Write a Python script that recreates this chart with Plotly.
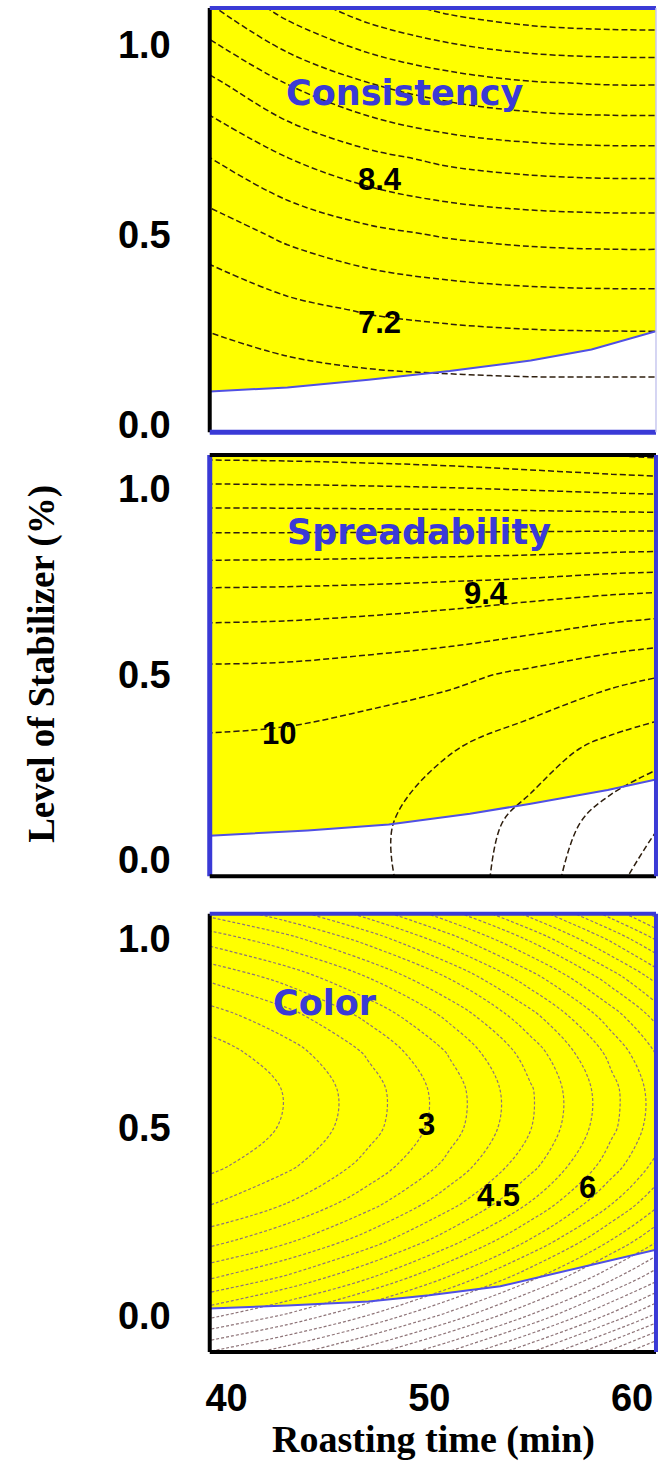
import plotly.graph_objects as go

# ---------------- data ----------------
roasting_time = [39, 43, 47, 51, 55, 59, 62]
stabilizer_coarse = [-0.1, 0.1, 0.3, 0.5, 0.7, 0.9, 1.1]
stabilizer_fine = [-0.1, 0.0, 0.1, 0.2, 0.3, 0.4, 0.5, 0.6, 0.7, 0.8, 0.9, 1.0, 1.1]

consistency = [
    [6.31, 6.26, 6.22, 6.20, 6.19, 6.18, 6.18],
    [6.54, 6.61, 6.67, 6.70, 6.72, 6.72, 6.72],
    [6.90, 7.09, 7.23, 7.31, 7.36, 7.38, 7.38],
    [7.38, 7.68, 7.90, 8.04, 8.12, 8.15, 8.15],
    [7.97, 8.39, 8.69, 8.89, 8.99, 9.03, 9.03],
    [8.69, 9.22, 9.60, 9.84, 9.98, 10.03, 10.03],
    [9.54, 10.17, 10.62, 10.91, 11.07, 11.13, 11.14],
]

spreadability = [
    [10.02, 10.05, 10.14, 10.30, 10.51, 10.79, 10.95],
    [10.06, 10.09, 10.16, 10.29, 10.46, 10.69, 10.82],
    [10.04, 10.06, 10.11, 10.19, 10.31, 10.46, 10.55],
    [9.85, 9.86, 9.90, 9.95, 10.04, 10.14, 10.20],
    [9.49, 9.50, 9.52, 9.55, 9.59, 9.65, 9.68],
    [8.95, 8.95, 8.95, 8.95, 8.95, 8.95, 8.95],
    [8.33, 8.32, 8.30, 8.27, 8.22, 8.16, 8.12],
]

color = [
    [7.08, 7.88, 8.89, 10.12, 11.57, 13.23, 14.62],
    [5.37, 6.10, 7.04, 8.19, 9.57, 11.16, 12.49],
    [3.94, 4.61, 5.49, 6.58, 7.89, 9.42, 10.71],
    [2.79, 3.41, 4.24, 5.29, 6.55, 8.03, 9.28],
    [1.93, 2.50, 3.30, 4.31, 5.53, 6.97, 8.20],
    [1.34, 1.89, 2.66, 3.64, 4.84, 6.26, 7.46],
    [1.03, 1.57, 2.32, 3.29, 4.48, 5.89, 7.08],
    [1.00, 1.54, 2.29, 3.26, 4.45, 5.85, 7.05],
    [1.25, 1.80, 2.57, 3.55, 4.74, 6.16, 7.36],
    [1.79, 2.36, 3.15, 4.15, 5.37, 6.80, 8.02],
    [2.60, 3.20, 4.03, 5.06, 6.32, 7.79, 9.03],
    [3.69, 4.34, 5.21, 6.30, 7.60, 9.12, 10.40],
    [5.06, 5.77, 6.70, 7.84, 9.21, 10.78, 12.11],
]

# feasible-region boundaries (yellow above, white below)
boundary1_x = [39.17, 43.0, 47.0, 51.0, 55.0, 58.0, 61.18]
boundary1_y = [0.086, 0.097, 0.117, 0.140, 0.168, 0.197, 0.245]
boundary2_x = [39.17, 44.0, 48.0, 52.0, 55.0, 58.8, 61.18]
boundary2_y = [0.066, 0.080, 0.096, 0.125, 0.152, 0.189, 0.217]
boundary3_x = [39.17, 43.0, 47.0, 50.0, 53.5, 56.8, 59.0, 61.18]
boundary3_y = [0.020, 0.028, 0.039, 0.055, 0.079, 0.121, 0.148, 0.176]

panel_names = ["Consistency", "Spreadability", "Color"]
label_text_1 = ["8.4", "7.2"]
label_x_1 = [47.55, 47.55]
label_y_1 = [0.645, 0.269]
label_text_2 = ["9.4", "10"]
label_x_2 = [52.80, 42.60]
label_y_2 = [0.717, 0.341]
label_text_3 = ["3", "4.5", "6"]
label_x_3 = [49.86, 53.39, 57.80]
label_y_3 = [0.509, 0.320, 0.341]

x_tick_vals = [40, 50, 60]
x_tick_text = ["40", "50", "60"]
y_tick_vals = [0.0, 0.5, 1.0]
y_tick_text = ["0.0", "0.5", "1.0"]

x_title = "Roasting time (min)"
y_title = "Level of Stabilizer (%)"

# ---------------- styling / layout ----------------
X_RANGE = [39.17, 61.18]
X_DOMAIN = [0.3141, 0.9954]
BLUE = "#3a3ad6"
YELLOW = "#ffff00"

panels = [
    dict(title=panel_names[0], z=consistency, y=stabilizer_coarse,
         levels=(6.4, 11.2, 0.4), lcolor="#2e1e0e", dash="6px,3px", lw=1.5,
         bx=boundary1_x, by=boundary1_y,
         yrange=[-0.021, 1.097], domain=[0.7040, 0.9946],
         title_xy=(48.78, 0.872),
         labels=(label_text_1, label_x_1, label_y_1),
         edges=dict(left=("#000000", 4), top=(BLUE, 4), bottom=(BLUE, 5), right=("#c8c8f0", 1.5))),
    dict(title=panel_names[1], z=spreadability, y=stabilizer_coarse,
         levels=(8.0, 11.0, 0.2), lcolor="#2e1e0e", dash="6px,3px", lw=1.5,
         bx=boundary2_x, by=boundary2_y,
         yrange=[-0.043, 1.091], domain=[0.3999, 0.6884],
         title_xy=(49.51, 0.883),
         labels=(label_text_2, label_x_2, label_y_2),
         edges=dict(left=(BLUE, 5), top=("#000000", 4), bottom=("#000000", 4), right=(BLUE, 4))),
    dict(title=panel_names[2], z=color, y=stabilizer_fine,
         levels=(1.5, 15.0, 0.5), lcolor="#8e7478", dash="3px,2px", lw=1.2,
         bx=boundary3_x, by=boundary3_y,
         yrange=[-0.095, 1.066], domain=[0.0740, 0.3741],
         title_xy=(44.86, 0.829),
         labels=(label_text_3, label_x_3, label_y_3),
         edges=dict(left=("#000000", 4), top=(BLUE, 4), bottom=("#000000", 4), right=(BLUE, 4))),
]

fig = go.Figure()
shapes = []
annotations = []
layout = {}

for i, p in enumerate(panels, start=1):
    sfx = "" if i == 1 else str(i)
    xa, ya = "x" + sfx, "y" + sfx
    start, end, size = p["levels"]
    fig.add_trace(go.Contour(
        x=roasting_time, y=p["y"], z=p["z"],
        contours=dict(start=start, end=end, size=size, coloring="none"),
        line=dict(color=p["lcolor"], width=p["lw"], dash=p["dash"], smoothing=1.0),
        showscale=False, hoverinfo="skip", xaxis=xa, yaxis=ya,
    ))
    fig.add_trace(go.Scatter(
        x=p["bx"], y=p["by"], mode="lines",
        line=dict(color="#5050e4", width=2),
        hoverinfo="skip", showlegend=False, xaxis=xa, yaxis=ya,
    ))
    # white (infeasible) region below boundary
    pts = " L ".join(f"{bx},{by}" for bx, by in zip(p["bx"], p["by"]))
    path = f"M {pts} L {X_RANGE[1]},{p['yrange'][0]} L {X_RANGE[0]},{p['yrange'][0]} Z"
    shapes.append(dict(type="path", path=path, xref=xa, yref=ya,
                       fillcolor="white", line=dict(width=0), layer="below"))
    # frame edges
    for side, (c, w) in p["edges"].items():
        if side == "left":
            coords = (0, 0, 0, 1)
        elif side == "right":
            coords = (1, 0, 1, 1)
        elif side == "top":
            coords = (0, 1, 1, 1)
        else:
            coords = (0, 0, 1, 0)
        shapes.append(dict(type="line", xref=xa + " domain", yref=ya + " domain",
                           x0=coords[0], y0=coords[1], x1=coords[2], y1=coords[3],
                           line=dict(color=c, width=w), layer="above"))
    # panel title
    tx, ty = p["title_xy"]
    annotations.append(dict(x=tx, y=ty, xref=xa, yref=ya, text=f"<b>{p['title']}</b>",
                            showarrow=False, xanchor="center", yanchor="middle",
                            font=dict(family="DejaVu Sans", size=35, color=BLUE)))
    # contour labels
    for t, lx, ly in zip(*p["labels"]):
        annotations.append(dict(x=lx, y=ly, xref=xa, yref=ya, text=f"<b>{t}</b>",
                                showarrow=False, xanchor="center", yanchor="middle",
                                font=dict(family="Liberation Sans", size=31, color="black")))

    layout["xaxis" + sfx] = dict(
        domain=X_DOMAIN, range=X_RANGE, anchor=ya,
        showgrid=False, zeroline=False, showline=False, ticks="",
        tickvals=x_tick_vals, ticktext=x_tick_text, showticklabels=(i == 3),
        tickfont=dict(family="Liberation Sans", size=38, color="black", weight="bold"),
        ticklabelstandoff=20,
    )
    layout["yaxis" + sfx] = dict(
        domain=p["domain"], range=p["yrange"], anchor=xa,
        showgrid=False, zeroline=False, showline=False, ticks="",
        tickvals=y_tick_vals, ticktext=y_tick_text,
        tickfont=dict(family="Liberation Sans", size=38, color="black", weight="bold"),
        ticklabelstandoff=38,
    )

annotations.append(dict(x=0.6555, y=1 - 1452 / 1473, xref="paper", yref="paper",
                        text=f"<b>{x_title}</b>", showarrow=False,
                        xanchor="center", yanchor="middle",
                        font=dict(family="Liberation Serif", size=38, color="black")))
annotations.append(dict(x=38 / 659, y=1 - 670 / 1473, xref="paper", yref="paper",
                        text=f"<b>{y_title}</b>", showarrow=False, textangle=-90,
                        xanchor="center", yanchor="middle",
                        font=dict(family="Liberation Serif", size=37, color="black")))

fig.update_layout(
    width=659, height=1473, autosize=False,
    margin=dict(l=0, r=0, t=0, b=0),
    paper_bgcolor="white", plot_bgcolor=YELLOW,
    showlegend=False,
    shapes=shapes, annotations=annotations,
    **layout,
)

fig.write_html("out.html")
